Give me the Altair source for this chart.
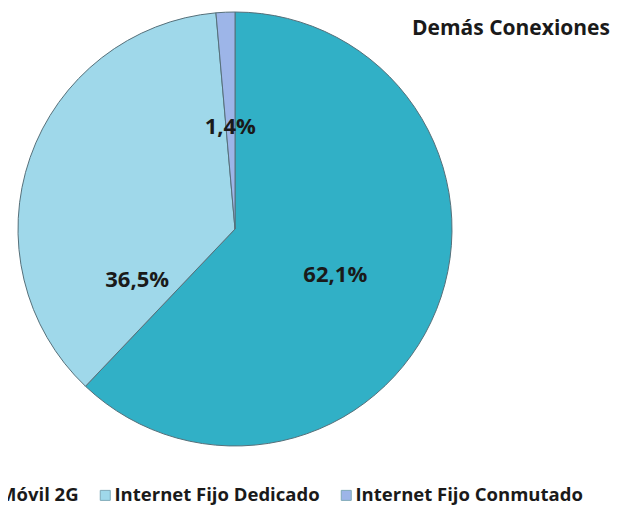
import altair as alt
import pandas as pd

categorias = ["Internet Móvil 2G", "Internet Fijo Dedicado", "Internet Fijo Conmutado"]
valores = [62.1, 36.5, 1.4]
etiquetas = ["62,1%", "36,5%", "1,4%"]
orden = [0, 1, 2]
colores = ["#31b0c6", "#9fd8ea", "#9db5e8"]
titulo = "Demás Conexiones"

df = pd.DataFrame({"categoria": categorias, "valor": valores,
                   "etiqueta": etiquetas, "orden": orden})

base = alt.Chart(df).encode(
    theta=alt.Theta("valor:Q", stack=True),
    order=alt.Order("orden:Q"),
)

color = alt.Color(
    "categoria:N",
    scale=alt.Scale(domain=categorias, range=colores),
    legend=alt.Legend(
        title=None, orient="none", direction="horizontal",
        legendX=-109, legendY=478,
        symbolType="square", symbolSize=100, symbolStrokeWidth=1,
        symbolStrokeColor="#7fa9b8",
        labelFont="Open Sans", labelFontWeight="bold", labelFontSize=18.5,
        labelColor="#1a1a1a", labelOffset=0, columnPadding=17, labelLimit=400,
    ),
)

pie = base.mark_arc(outerRadius=217, stroke="#56707a", strokeWidth=1).encode(color=color)

lab_a = base.mark_text(radius=108, dy=6, font="Open Sans", fontWeight="bold", fontSize=22,
                       color="#1a1a1a").encode(
    text=alt.condition("datum.orden != 1", alt.Text("etiqueta:N"), alt.value(""))
)
lab_b = base.mark_text(radius=110, dx=6, dy=87, font="Open Sans", fontWeight="bold",
                       fontSize=22, color="#1a1a1a").encode(
    text=alt.condition("datum.orden == 1", alt.Text("etiqueta:N"), alt.value(""))
)

tit = alt.Chart(pd.DataFrame({"t": [titulo]})).mark_text(
    align="left", baseline="middle", font="Open Sans", fontWeight="bold",
    fontSize=21, color="#1a1a1a"
).encode(text="t:N", x=alt.value(404), y=alt.value(21))

chart = alt.layer(pie, lab_a, lab_b, tit).properties(
    width=454, height=442,
    autosize=alt.AutoSizeParams(type="none"),
    padding={"left": 0, "top": 0, "right": 150, "bottom": 56},
).configure_view(stroke=None)

chart.save("out.html", embed_options={"renderer": "svg", "actions": False})
